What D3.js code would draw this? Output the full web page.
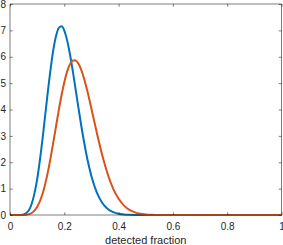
<!DOCTYPE html>
<html><head><meta charset="utf-8">
<script src="https://cdn.jsdelivr.net/npm/d3@7"></script>
<style>html,body{margin:0;padding:0;background:#fff;}svg{display:block;}</style>
</head><body>
<svg id="chart" width="283" height="245"></svg>
<script>
const xValues = [0,0.02,0.04,0.06,0.08,0.10,0.12,0.14,0.16,0.17,0.18,0.19,0.20,0.21,0.22,0.23,0.24,0.25,0.26,0.28,0.30,0.32,0.34,0.36,0.38,0.40,0.42,0.44,0.46,0.48,0.50,0.52,0.54,0.56,0.58,0.60,0.70,0.80,0.90,1.00];
const blueValues = [0,0.00002,0.0044,0.0741,0.4269,1.3496,2.8988,4.7353,6.2911,6.805,7.0949,7.1524,6.9908,6.640,6.1410,5.5392,4.8796,4.2033,3.5446,2.3722,1.4712,0.8491,0.4574,0.2304,0.1087,0.0480,0.0198,0.0077,0.0028,0.0009,0.0003,0.0001,0,0,0,0,0,0,0,0];
const orangeValues = [0,0,0.0005,0.0107,0.0760,0.2994,0.8052,1.6553,2.7827,3.3929,3.9934,4.5512,5.0369,5.4257,5.6996,5.8488,5.8720,5.7747,5.5689,4.9017,4.0292,3.1074,2.2562,1.5461,1.0016,0.6141,0.3564,0.1958,0.1017,0.0499,0.0231,0.0101,0.0041,0.0016,0.0005,0.0002,0,0,0,0];
const xTicks = [0,0.2,0.4,0.6,0.8,1];
const xTickLabels = ["0","0.2","0.4","0.6","0.8","1"];
const yTicks = [0,1,2,3,4,5,6,7,8];
const xLabel = "detected fraction";

const svg = d3.select("#chart");
const W = 283, H = 245;
const m = {left: 10, right: 1.5, top: 4, bottom: 30};
const x = d3.scaleLinear().domain([0,1]).range([m.left, W - m.right]);
const y = d3.scaleLinear().domain([0,8]).range([H - m.bottom, m.top]);
const axisColor = "#262626";
const font = "'Liberation Sans', Arial, Helvetica, sans-serif";

const line = d3.line().x((d,i)=>x(xValues[i])).y(d=>y(d)).curve(d3.curveMonotoneX);
const g = svg.append("g");
g.append("path").datum(blueValues).attr("d", line).attr("fill","none").attr("stroke","#0072BD").attr("stroke-width",2).attr("stroke-linejoin","round");
g.append("path").datum(orangeValues).attr("d", line).attr("fill","none").attr("stroke","#D95319").attr("stroke-width",2).attr("stroke-linejoin","round");

function styleAxis(sel){
  sel.select(".domain").remove();
  sel.selectAll(".tick line").attr("stroke", axisColor).attr("stroke-width",0.6);
  sel.selectAll(".tick text").attr("fill", axisColor).style("font-family", font).style("font-size","10px");
}
const tl = 2.7;
const xb = svg.append("g").attr("transform",`translate(0,${H-m.bottom})`)
  .call(d3.axisBottom(x).tickValues(xTicks).tickFormat((d,i)=>xTickLabels[i]).tickSizeInner(-tl).tickSizeOuter(0).tickPadding(8));
styleAxis(xb);
const xt = svg.append("g").attr("transform",`translate(0,${m.top})`)
  .call(d3.axisTop(x).tickValues(xTicks).tickFormat("").tickSizeInner(-tl).tickSizeOuter(0));
styleAxis(xt);
const yl = svg.append("g").attr("transform",`translate(${m.left},0)`)
  .call(d3.axisLeft(y).tickValues(yTicks).tickFormat(d3.format("d")).tickSizeInner(-tl).tickSizeOuter(0).tickPadding(4));
styleAxis(yl);
const yr = svg.append("g").attr("transform",`translate(${W-m.right},0)`)
  .call(d3.axisRight(y).tickValues(yTicks).tickFormat("").tickSizeInner(-tl).tickSizeOuter(0));
styleAxis(yr);

svg.append("rect").attr("x", x(0)).attr("y", y(8)).attr("width", x(1)-x(0)).attr("height", y(0)-y(8))
  .attr("fill","none").attr("stroke",axisColor).attr("stroke-width",0.6);

svg.append("text").attr("x",(x(0)+x(1))/2).attr("y",243.5).attr("text-anchor","middle")
  .attr("fill",axisColor).style("font-family",font).style("font-size","11px").text(xLabel);
</script>
</body></html>
